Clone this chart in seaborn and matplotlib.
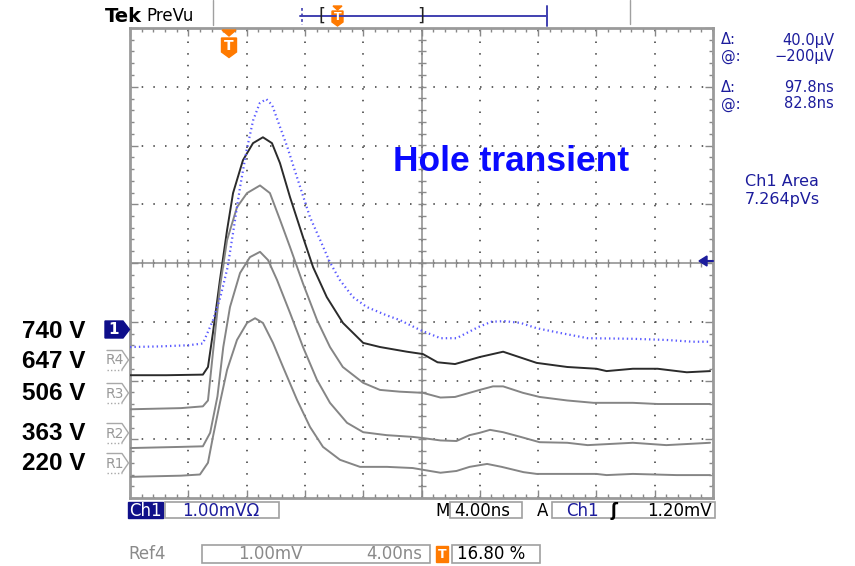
import numpy as np
import pandas as pd
import matplotlib
matplotlib.use("Agg")
import matplotlib.pyplot as plt
import seaborn as sns
from matplotlib.patches import Polygon, Rectangle
from matplotlib.lines import Line2D
from matplotlib.ticker import MultipleLocator

# ---------------- data (time in ns, amplitude in mV, 4 ns/div, 1 mV/div) ----------------
t_ch1 = [0.0, 2.0, 4.0, 5.0, 5.7, 6.2, 6.7, 7.1, 7.55, 8.0, 8.45, 8.9, 9.35, 9.75, 10.3, 10.8,
         11.3, 11.9, 12.35, 13.05, 13.7, 14.4, 15.3, 16.25, 17.6, 18.5, 19.9, 21.3, 22.4, 23.9,
         24.8, 25.7, 26.8, 27.9, 29.5, 31.4, 34.5, 36.8, 38.6, 39.8]
v_ch1 = [-1.43, -1.42, -1.40, -1.37, -0.97, -0.58, -0.07, 0.56, 1.29, 1.92, 2.43, 2.72, 2.79, 2.69,
         2.31, 1.97, 1.58, 1.12, 0.78, 0.39, 0.02, -0.29, -0.58, -0.75, -0.89, -0.97, -1.14, -1.28,
         -1.28, -1.09, -1.00, -0.99, -1.02, -1.11, -1.19, -1.28, -1.29, -1.31, -1.34, -1.34]

t_r4 = [0.0, 2.5, 5.0, 5.35, 5.69, 6.17, 6.66, 7.07, 7.75, 8.44, 9.12, 9.74, 10.29, 10.98, 11.87,
        12.56, 13.5, 14.61, 16.0, 17.15, 19.0, 20.1, 21.1, 22.3, 24.0, 25.6, 27.9, 30.0, 32.0,
        32.7, 34.5, 36.2, 38.2, 39.8]
v_r4 = [-1.91, -1.91, -1.90, -1.77, -1.19, -0.29, 0.56, 1.19, 1.75, 2.04, 2.14, 2.04, 1.70, 1.12,
        0.44, -0.07, -0.58, -1.02, -1.36, -1.43, -1.51, -1.55, -1.69, -1.72, -1.60, -1.51, -1.70,
        -1.77, -1.80, -1.84, -1.80, -1.80, -1.86, -1.84]

t_r3 = [0.0, 3.5, 5.0, 5.35, 5.69, 6.17, 6.66, 7.34, 8.03, 8.92, 9.6, 10.3, 10.98, 11.87, 12.83,
        13.72, 14.6, 16.0, 17.15, 18.5, 20.1, 21.3, 22.3, 24.0, 24.9, 25.6, 26.96, 28.1, 30.0,
        31.8, 34.5, 36.2, 39.8]
v_r3 = [-2.49, -2.47, -2.44, -2.34, -1.53, -0.41, 0.39, 0.95, 1.19, 1.32, 1.19, 0.73, 0.27, -0.35,
        -0.97, -1.43, -1.77, -2.04, -2.16, -2.19, -2.21, -2.29, -2.28, -2.16, -2.10, -2.10, -2.21,
        -2.28, -2.34, -2.38, -2.38, -2.40, -2.40]

t_r2 = [0.0, 3.5, 5.0, 5.5, 6.0, 6.4, 6.86, 7.55, 8.23, 8.92, 9.47, 10.09, 10.98, 11.87, 12.83,
        13.72, 14.89, 16.0, 17.6, 19.4, 20.1, 21.3, 22.4, 23.3, 24.0, 24.7, 25.6, 26.8, 28.1,
        30.0, 31.4, 34.5, 36.8, 39.8]
v_r2 = [-3.15, -3.13, -3.12, -2.89, -2.27, -1.43, -0.75, -0.17, 0.10, 0.19, 0.05, -0.29, -0.85,
        -1.43, -1.99, -2.38, -2.72, -2.88, -2.93, -2.96, -2.98, -3.02, -3.03, -2.93, -2.89, -2.84,
        -2.88, -2.96, -3.05, -3.06, -3.10, -3.06, -3.10, -3.06]

t_r1 = [0.0, 3.5, 4.8, 5.35, 5.69, 6.17, 6.66, 7.34, 8.03, 8.58, 9.12, 9.81, 10.5, 11.46, 12.35,
        13.24, 14.41, 15.78, 17.63, 19.4, 20.1, 21.3, 22.4, 23.3, 24.5, 25.5, 27.0, 27.9, 30.0,
        32.0, 32.7, 34.5, 37.5, 39.8]
v_r1 = [-3.64, -3.62, -3.60, -3.40, -2.96, -2.38, -1.82, -1.31, -1.02, -0.94, -1.02, -1.36, -1.77,
        -2.33, -2.79, -3.13, -3.35, -3.47, -3.47, -3.49, -3.52, -3.57, -3.54, -3.47, -3.42, -3.47,
        -3.56, -3.59, -3.59, -3.59, -3.61, -3.59, -3.61, -3.61]

bias_labels = ["740 V", "647 V", "506 V", "363 V", "220 V"]
ref_names = ["R4", "R3", "R2", "R1"]
readouts = [("Δ:", "40.0μV"), ("@:", "−200μV"), ("Δ:", "97.8ns"), ("@:", "82.8ns")]
area_text = ["Ch1 Area", "7.264pVs"]
title_text = "Hole transient"

# ---------------- figure ----------------
sns.set_style("white")
plt.rcParams["font.family"] = ["DejaVu Sans"]
plt.rcParams["lines.scale_dashes"] = False

W, H = 855, 566
fig = plt.figure(figsize=(W / 100, H / 100), dpi=100)
fig.patch.set_facecolor("white")


def F(x, y):
    return (x / W, 1 - y / H)


L, R, T, B = 130, 713, 28, 498
ax = fig.add_axes([L / W, 1 - B / H, (R - L) / W, (B - T) / H])
ax.set_xlim(0, 40)
ax.set_ylim(-4, 4)

NAVY = "#1c1c9c"
ORANGE = "#ff7a00"

# grid
ax.xaxis.set_major_locator(MultipleLocator(4))
ax.yaxis.set_major_locator(MultipleLocator(1))
ax.xaxis.set_minor_locator(MultipleLocator(0.8))
ax.yaxis.set_minor_locator(MultipleLocator(0.2))
ax.grid(True, which="major", color="#555555", linestyle=(0, (1.1, 7.3)), linewidth=1.3)
ax.tick_params(which="both", direction="in", top=True, right=True, bottom=True, left=True,
               labelbottom=False, labelleft=False, color="#888888")
ax.tick_params(which="major", length=6, width=1)
ax.tick_params(which="minor", length=3, width=1)
for s in ax.spines.values():
    s.set_color("#9a9a9a")
    s.set_linewidth(2)

# centre crosshair
ax.axhline(0, color="#8a8a8a", lw=1.1, zorder=1)
ax.axvline(20, color="#8a8a8a", lw=1.1, zorder=1)
xt = np.arange(0, 40.01, 0.8)
ax.plot(xt, np.zeros_like(xt), ls="none", marker="|", ms=6, color="#8a8a8a", mew=1, zorder=1)
yt = np.arange(-4, 4.01, 0.2)
ax.plot(np.full_like(yt, 20), yt, ls="none", marker="_", ms=6, color="#8a8a8a", mew=1, zorder=1)

# traces
frames = []
for name, tt, vv in [("R4", t_r4, v_r4), ("R3", t_r3, v_r3), ("R2", t_r2, v_r2), ("R1", t_r1, v_r1)]:
    frames.append(pd.DataFrame({"t": tt, "v": vv, "trace": name}))
df_ref = pd.concat(frames, ignore_index=True)
sns.lineplot(data=df_ref, x="t", y="v", hue="trace",
             palette={"R4": "#2b2b2b", "R3": "#858585", "R2": "#858585", "R1": "#858585"},
             estimator=None, sort=False, legend=False, lw=1.4, ax=ax, zorder=3)
df_ch1 = pd.DataFrame({"t": t_ch1, "v": v_ch1})
sns.lineplot(data=df_ch1, x="t", y="v", estimator=None, sort=False, color="#5a5aff",
             lw=1.6, linestyle=(0, (1.0, 2.2)), ax=ax, zorder=4)
ax.set_xlabel("")
ax.set_ylabel("")

ax.text(0.653, 0.715, title_text, transform=ax.transAxes, ha="center", va="center",
        fontsize=25.5, fontweight="bold", color="#0a0aff", family=["Liberation Sans"])

# ---------------- decorations in pixel space ----------------
def poly(pts, **kw):
    fig.patches.append(Polygon([F(*p) for p in pts], closed=True, transform=fig.transFigure, **kw))


def line(xs, ys, **kw):
    fig.add_artist(Line2D([x / W for x in xs], [1 - y / H for y in ys], transform=fig.transFigure, **kw))


def rect(x0, y0, x1, y1, **kw):
    fig.patches.append(Rectangle(F(x0, y1), (x1 - x0) / W, (y1 - y0) / H, transform=fig.transFigure, **kw))


def txt(x, y, s, **kw):
    fig.text(x / W, 1 - y / H, s, **kw)


# header
txt(105, 16, "Tek", fontsize=14, fontweight="bold", va="center", ha="left", color="black")
txt(146, 16, "PreVu", fontsize=12, va="center", ha="left", color="black")
line([213, 213], [0, 25], color="#a0a0a0", lw=1)
line([630, 630], [0, 24], color="#a0a0a0", lw=1)
line([300, 547], [16, 16], color="#4040b0", lw=1.4)
line([302, 302], [8, 25], color="#4040b0", lw=1.2, linestyle=(0, (2, 2)))
line([547, 547], [6, 26], color="#4040b0", lw=1.4)
txt(322, 16, "[", fontsize=13, va="center", ha="center", color="#222222")
txt(421, 16, "]", fontsize=13, va="center", ha="center", color="#222222")
poly([(333, 6), (342, 6), (337.5, 10)], color=ORANGE)
poly([(332, 11), (343, 11), (343, 22), (337.5, 26), (332, 22)], color=ORANGE)
txt(337.5, 17, "T", fontsize=8, fontweight="bold", color="white", ha="center", va="center")

# trigger position marker
poly([(222, 30), (236, 30), (229, 36)], color=ORANGE)
poly([(221.5, 38), (236.5, 38), (236.5, 52), (229, 57.5), (221.5, 52)], color=ORANGE)
txt(229, 46.5, "T", fontsize=10, fontweight="bold", color="white", ha="center", va="center")

# trigger level arrow (right)
poly([(699, 261), (707, 256), (707, 266)], color=NAVY)
line([705, 713], [261, 261], color=NAVY, lw=1.5)

# channel / reference markers
poly([(105, 321), (123, 321), (129.5, 329.5), (123, 338), (105, 338)], color="#0e0e8a")
txt(114, 330, "1", fontsize=11, fontweight="bold", color="white", ha="center", va="center")
for name, c in zip(ref_names, [360, 393, 433, 463]):
    line([107, 122, 128.5, 122], [c - 9.5, c - 9.5, c, c + 9.5], color="#a8a8a8", lw=1)
    line([107, 122], [c + 9.5, c + 9.5], color="#a8a8a8", lw=1, linestyle=(0, (1, 1.5)))
    txt(115, c + 0.5, name, fontsize=10, color="#999999", ha="center", va="center")

for lab, c in zip(bias_labels, [331, 361, 393, 434, 464]):
    txt(85, c, lab, fontsize=17.5, fontweight="bold", color="black", ha="right", va="center",
        family=["Liberation Sans"])

# right readouts
for (k, v), y in zip(readouts, [40, 57, 87, 104]):
    txt(721, y, k, fontsize=10.5, color=NAVY, ha="left", va="center")
    txt(834, y, v, fontsize=10.5, color=NAVY, ha="right", va="center")
txt(782, 181, area_text[0], fontsize=11.5, color=NAVY, ha="center", va="center")
txt(782, 199, area_text[1], fontsize=11.5, color=NAVY, ha="center", va="center")

# bottom status bar
EDGE = "#a0a0a0"
rect(128, 502, 163, 518, facecolor="#10108a", edgecolor="#10108a", lw=1)
txt(145.5, 510.5, "Ch1", fontsize=12, color="white", ha="center", va="center")
rect(165, 502, 279, 518, facecolor="white", edgecolor=EDGE, lw=1.2)
txt(182, 510.5, "1.00mVΩ", fontsize=12, color=NAVY, ha="left", va="center")
txt(435, 510.5, "M", fontsize=12, color="black", ha="left", va="center")
rect(450, 502, 522, 518, facecolor="white", edgecolor=EDGE, lw=1.2)
txt(454, 510.5, "4.00ns", fontsize=12, color="black", ha="left", va="center")
txt(537, 510.5, "A", fontsize=12, color="black", ha="left", va="center")
rect(552, 502, 715, 518, facecolor="white", edgecolor=EDGE, lw=1.2)
txt(566, 510.5, "Ch1", fontsize=12, color=NAVY, ha="left", va="center")
txt(614, 510.5, "ʃ", fontsize=12, fontweight="bold", color="black", ha="center", va="center")
txt(712, 510.5, "1.20mV", fontsize=12, color="black", ha="right", va="center")

txt(128, 554, "Ref4", fontsize=12, color="#8a8a8a", ha="left", va="center")
rect(202, 545, 430, 563, facecolor="white", edgecolor=EDGE, lw=1.2)
txt(238, 554, "1.00mV", fontsize=12, color="#8a8a8a", ha="left", va="center")
txt(422, 554, "4.00ns", fontsize=12, color="#8a8a8a", ha="right", va="center")
rect(436, 546, 448, 562, facecolor=ORANGE, edgecolor=ORANGE, lw=1)
txt(442, 554.5, "T", fontsize=9, fontweight="bold", color="white", ha="center", va="center")
rect(452, 545, 540, 563, facecolor="white", edgecolor=EDGE, lw=1.2)
txt(457, 554, "16.80 %", fontsize=12, color="black", ha="left", va="center")

fig.savefig("out.png", dpi=100, facecolor="white")
